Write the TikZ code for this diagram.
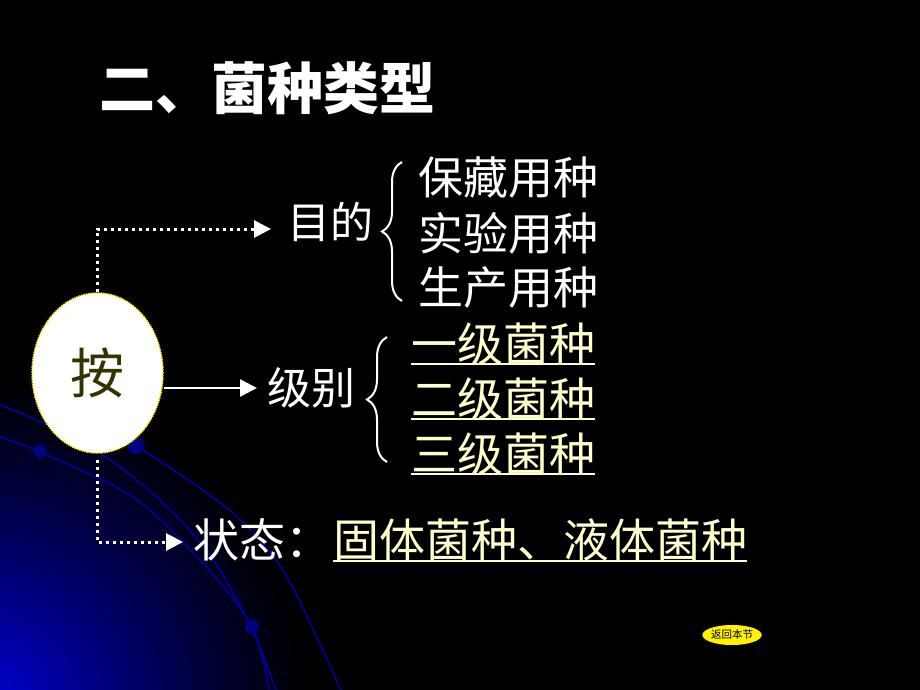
\documentclass[tikz,border=0pt]{standalone}
\usepackage{fontspec}
\newfontfamily\cjk{Noto Sans CJK SC}
\usetikzlibrary{arrows.meta,decorations.pathreplacing,shapes.geometric}
\definecolor{glowA}{RGB}{0,0,220}
\definecolor{arcblue}{RGB}{0,0,165}
\definecolor{dotblue}{RGB}{0,0,130}
\definecolor{paleyellow}{RGB}{255,255,204}
\definecolor{olive}{RGB}{51,51,0}
\begin{document}
\begin{tikzpicture}[x=1pt,y=1pt,
  txt/.style={anchor=west, inner sep=0pt, text=white, font=\cjk\fontsize{45}{54}\selectfont},
  ytxt/.style={txt, text=paleyellow, font=\cjk\fontsize{46}{54}\selectfont},
  uline/.style={draw=paleyellow, line width=2pt},
  dotarr/.style={draw=white, line width=3pt, dash pattern=on 3pt off 4pt, -{Triangle[length=17pt,width=17pt]}},
  solarr/.style={draw=white, line width=2.5pt, -{Triangle[length=17pt,width=17pt]}},
  bracestyle/.style={draw=white, line width=2pt, decorate, decoration={brace, amplitude=20pt, aspect=0.5}},
  arcline/.style={draw=arcblue, line width=1.5pt},
  bdot/.style={fill=dotblue}]
\useasboundingbox (0,0) rectangle (920,-690);
\fill[black] (0,0) rectangle (920,-690);
\begin{scope}
  \clip (0,0) rectangle (920,-690);
  \foreach \r in {330,324,...,6} {
    \pgfmathsetmacro\p{100*(1-\r/335)^1.15}
    \fill[glowA!\p!black] (-20,-710) circle (\r pt);
  }
  \draw[arcline] plot[smooth] coordinates {(-5,-403) (37,-420) (100,-453) (160,-500) (210,-555) (250,-625) (278,-695)};
  \draw[arcline] plot[smooth] coordinates {(-5,-435) (40,-452) (133,-497) (200,-560) (252,-627) (270,-695)};
  \draw[arcline] plot[smooth] coordinates {(90,-428) (136,-446) (233,-513) (287,-577) (343,-695)};
  \fill[bdot] (40,-451) circle (6.5pt);
  \fill[bdot] (136,-446) circle (8.5pt);
  \fill[bdot] (252,-627) circle (7pt);
\end{scope}
% title
\node[txt, font=\cjk\bfseries\fontsize{56}{64}\selectfont] (title) at (99,-88) {二、菌种类型};
% central ellipse
\node[ellipse, draw=yellow, line width=1.5pt, densely dotted, fill=white, minimum width=131pt, minimum height=160pt, inner sep=0pt, text=olive, font=\cjk\fontsize{54}{60}\selectfont] (an) at (97.5,-373) {按};
% purpose
\node[txt, font=\cjk\fontsize{43}{50}\selectfont] (mud) at (287,-222) {目的};
\draw[bracestyle] (402,-301) -- (402,-162);
\node[txt] (p1) at (418,-178) {保藏用种};
\node[txt] (p2) at (418,-233) {实验用种};
\node[txt] (p3) at (418,-288) {生产用种};
% grade
\node[txt, font=\cjk\fontsize{44}{50}\selectfont] (jb) at (267,-388) {级别};
\draw[bracestyle] (387,-462) -- (387,-337);
\node[ytxt] (g1) at (411,-344) {一级菌种};
\node[ytxt] (g2) at (411,-399) {二级菌种};
\node[ytxt] (g3) at (411,-454) {三级菌种};
\draw[uline] ([yshift=-3pt]g1.base west) -- ([yshift=-3pt]g1.base east);
\draw[uline] ([yshift=-3pt]g2.base west) -- ([yshift=-3pt]g2.base east);
\draw[uline] ([yshift=-3pt]g3.base west) -- ([yshift=-3pt]g3.base east);
% state
\node[txt, font=\cjk\fontsize{46}{54}\selectfont] (zt) at (193,-540) {状态：};
\node[ytxt] (st) at (333,-540) {固体菌种、液体菌种};
\draw[uline] ([yshift=-3.5pt]st.base west) -- ([yshift=-3.5pt]st.base east);
% connectors
\draw[dotarr] (an.north) |- ([xshift=-16pt,yshift=-7pt]mud.west);
\draw[solarr] ([yshift=-15pt]an.east) -- ([xshift=-10pt]jb.west);
\draw[dotarr] ([yshift=-6pt]an.south) |- ([xshift=-10pt,yshift=-2pt]zt.west);
% back button
\node[ellipse, fill=yellow, minimum width=52pt, minimum height=20pt, inner sep=0pt, text=black, font=\cjk\fontsize{10.5}{12}\selectfont] (back) at (732,-635) {返回本节};
\end{tikzpicture}
\end{document}
